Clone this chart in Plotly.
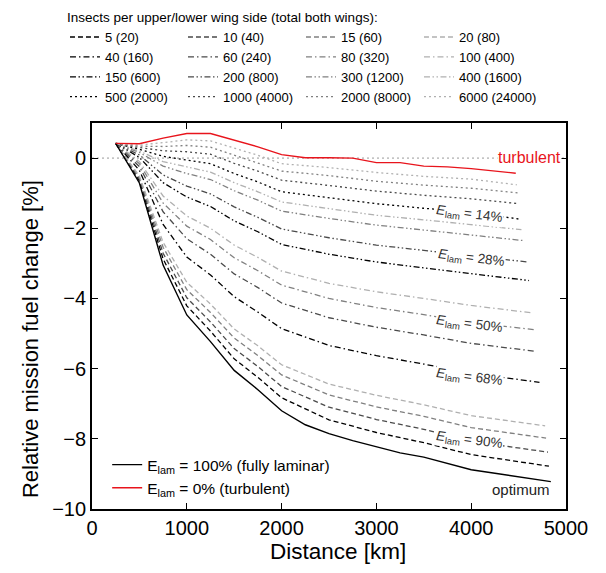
import plotly.graph_objects as go

# ---------------- data ----------------
distances = [250, 500, 750, 1000, 1250, 1500, 1750, 2000, 2500, 3000, 3500, 4000]

insect_labels = ["5 (20)", "10 (40)", "15 (60)", "20 (80)",
                 "40 (160)", "60 (240)", "80 (320)", "100 (400)",
                 "150 (600)", "200 (800)", "300 (1200)", "400 (1600)",
                 "500 (2000)", "1000 (4000)", "2000 (8000)", "6000 (24000)"]

end_distances = [4820, 4810, 4790, 4780,
                 4720, 4690, 4660, 4640,
                 4610, 4590, 4550, 4530,
                 4510, 4500, 4490, 4480]

fuel_5 = [0.42, -0.65, -2.87, -4.21, -4.93, -5.72, -6.25, -6.83, -7.46, -7.82, -8.11, -8.45, -8.78]
fuel_10 = [0.42, -0.60, -2.71, -3.98, -4.67, -5.43, -5.94, -6.51, -7.10, -7.45, -7.73, -8.07, -8.38]
fuel_15 = [0.42, -0.55, -2.54, -3.75, -4.40, -5.13, -5.63, -6.18, -6.75, -7.09, -7.36, -7.68, -7.98]
fuel_20 = [0.42, -0.51, -2.40, -3.54, -4.16, -4.87, -5.35, -5.89, -6.44, -6.76, -7.03, -7.34, -7.63]
fuel_40 = [0.42, -0.35, -1.89, -2.82, -3.33, -3.95, -4.39, -4.86, -5.34, -5.63, -5.87, -6.13, -6.39]
fuel_60 = [0.42, -0.24, -1.53, -2.30, -2.74, -3.30, -3.69, -4.13, -4.55, -4.82, -5.04, -5.28, -5.51]
fuel_80 = [0.42, -0.16, -1.28, -1.94, -2.32, -2.84, -3.21, -3.62, -4.00, -4.26, -4.46, -4.68, -4.89]
fuel_100 = [0.42, -0.10, -1.08, -1.65, -2.00, -2.48, -2.83, -3.22, -3.57, -3.81, -4.00, -4.20, -4.41]
fuel_150 = [0.42, 0.02, -0.70, -1.11, -1.38, -1.79, -2.10, -2.46, -2.74, -2.96, -3.13, -3.30, -3.49]
fuel_200 = [0.42, 0.09, -0.48, -0.80, -1.02, -1.39, -1.69, -2.02, -2.27, -2.48, -2.63, -2.79, -2.96]
fuel_300 = [0.42, 0.16, -0.23, -0.44, -0.61, -0.93, -1.20, -1.51, -1.72, -1.91, -2.05, -2.19, -2.35]
fuel_400 = [0.42, 0.20, -0.10, -0.26, -0.40, -0.70, -0.96, -1.25, -1.44, -1.63, -1.76, -1.89, -2.04]
fuel_500 = [0.42, 0.25, 0.05, -0.05, -0.16, -0.44, -0.68, -0.96, -1.13, -1.30, -1.43, -1.54, -1.74]
fuel_1000 = [0.42, 0.30, 0.21, 0.18, 0.11, -0.15, -0.37, -0.63, -0.78, -0.94, -1.06, -1.16, -1.30]
fuel_2000 = [0.42, 0.34, 0.33, 0.36, 0.31, 0.08, -0.13, -0.37, -0.50, -0.66, -0.77, -0.86, -0.99]
fuel_6000 = [0.42, 0.37, 0.44, 0.52, 0.49, 0.28, 0.08, -0.16, -0.27, -0.41, -0.52, -0.60, -0.76]

insect_series = [fuel_5, fuel_10, fuel_15, fuel_20, fuel_40, fuel_60, fuel_80, fuel_100,
                 fuel_150, fuel_200, fuel_300, fuel_400, fuel_500, fuel_1000, fuel_2000, fuel_6000]

laminar_distance = [250, 500, 750, 1000, 1250, 1500, 1750, 2000, 2250, 2500, 2750, 3000,
                    3250, 3500, 3750, 4000, 4250, 4500, 4840]
laminar_fuel = [0.42, -0.71, -3.05, -4.47, -5.23, -6.05, -6.60, -7.20, -7.60, -7.85, -8.05, -8.22,
                -8.40, -8.52, -8.70, -8.88, -8.98, -9.08, -9.22]

turbulent_distance = [250, 500, 750, 1000, 1250, 1500, 1750, 2000, 2250, 2500, 2750, 3000,
                      3250, 3500, 3750, 4000, 4250, 4470]
turbulent_fuel = [0.42, 0.41, 0.57, 0.70, 0.70, 0.51, 0.32, 0.10, 0.01, 0.01, 0.00, -0.13,
                  -0.13, -0.23, -0.25, -0.30, -0.36, -0.43]

elam_labels = ["14%", "28%", "50%", "68%", "90%"]
elam_label_x = [3980, 4000, 3980, 3980, 3980]
elam_label_y = [-1.60, -2.86, -4.74, -6.25, -8.04]

# ---------------- styling ----------------
FONT = "Liberation Sans, Arial, sans-serif"
greys = ["#000000", "#4a4a4a", "#808080", "#b0b0b0"]
dashes = ["5px,3px",
          "6px,3px,1.5px,3px",
          "6px,2.5px,1.5px,2.5px,1.5px,2.5px",
          "2px,3px"]

fig = go.Figure()

for i, (lab, ys) in enumerate(zip(insect_labels, insect_series)):
    row, col = divmod(i, 4)
    xs = distances + [end_distances[i]]
    fig.add_trace(go.Scatter(
        x=xs, y=ys, mode="lines", name=lab, legend="legend",
        line=dict(color=greys[col], dash=dashes[row], width=1.3),
        hoverinfo="skip"))

fig.add_trace(go.Scatter(
    x=laminar_distance, y=laminar_fuel, mode="lines",
    name="E<sub>lam</sub> = 100% (fully laminar)", legend="legend2",
    line=dict(color="black", width=1.4)))
fig.add_trace(go.Scatter(
    x=turbulent_distance, y=turbulent_fuel, mode="lines",
    name="E<sub>lam</sub> = 0% (turbulent)", legend="legend2",
    line=dict(color="#e8141c", width=1.4)))

# zero reference line
fig.add_shape(type="line", xref="paper", x0=0, x1=1, yref="y", y0=0, y1=0,
              line=dict(color="#9a9a9a", width=1, dash="2px,3px"), layer="below")

for lab, lx, ly in zip(elam_labels, elam_label_x, elam_label_y):
    fig.add_annotation(x=lx, y=ly, text="<i>E</i><sub>lam</sub> = " + lab,
                       showarrow=False, textangle=7, bgcolor="white", borderpad=0,
                       font=dict(family=FONT, size=13.5, color="#333333"))

fig.add_annotation(x=4620, y=0.02, text="turbulent", showarrow=False, bgcolor="white",
                   borderpad=0, font=dict(family=FONT, size=16, color="#e8141c"))
fig.add_annotation(x=4520, y=-9.45, text="optimum", showarrow=False,
                   font=dict(family=FONT, size=15, color="#222222"))

# axis titles
fig.add_annotation(xref="paper", yref="paper", x=0.52, y=-0.11, yanchor="middle",
                   text="Distance [km]", showarrow=False,
                   font=dict(family=FONT, size=22.5, color="black"))
fig.add_annotation(xref="paper", yref="paper", x=-0.131, y=0.44, xanchor="center",
                   text="Relative mission fuel change [%]", showarrow=False, textangle=-90,
                   font=dict(family=FONT, size=22, color="black"))

axis_common = dict(showline=True, linecolor="black", linewidth=1.8, mirror="ticks",
                   ticks="inside", ticklen=6, tickwidth=1.3, tickcolor="black",
                   showgrid=False, zeroline=False,
                   tickfont=dict(family=FONT, size=20, color="black"))

fig.update_layout(
    width=606, height=573,
    margin=dict(l=92, r=40, t=123, b=64, autoexpand=False),
    paper_bgcolor="white", plot_bgcolor="white",
    font=dict(family=FONT, color="black"),
    xaxis=dict(range=[0, 5000], tickvals=[0, 1000, 2000, 3000, 4000, 5000], **axis_common),
    yaxis=dict(range=[-10, 1], tickvals=[-10, -8, -6, -4, -2, 0], **axis_common),
    legend=dict(orientation="h", x=-0.057, y=1.307, xanchor="left", yanchor="top",
                entrywidth=73, entrywidthmode="pixels",
                title=dict(text="Insects per upper/lower wing side (total both wings):",
                           side="top", font=dict(family=FONT, size=13.5)),
                font=dict(family=FONT, size=13), bgcolor="rgba(0,0,0,0)",
                tracegroupgap=0, itemwidth=30),
    legend2=dict(orientation="v", x=0.032, y=0.158, xanchor="left", yanchor="top",
                 font=dict(family=FONT, size=15.5), bgcolor="rgba(0,0,0,0)", itemwidth=30),
    showlegend=True,
)

fig.write_html("out.html")
